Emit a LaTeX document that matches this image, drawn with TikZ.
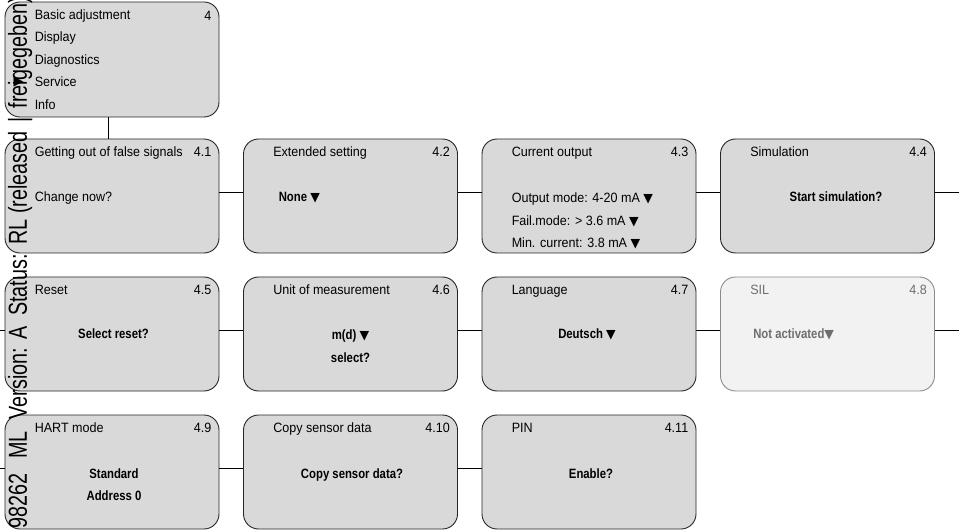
\documentclass[tikz,border=0pt]{standalone}
\usepackage{fontspec}
\setmainfont{Liberation Sans}[FakeStretch=0.93,BoldFeatures={FakeStretch=0.84}]
\newfontfamily\symfont{DejaVu Sans}
\newfontfamily\stampfont{Liberation Sans}[FakeStretch=0.76]
\definecolor{Box}{HTML}{D9D9D9}
\definecolor{Pale}{HTML}{F2F2F2}
\definecolor{Edge}{HTML}{262626}
\definecolor{Rim}{HTML}{8C8C8C}
\definecolor{Dim}{HTML}{6E6E6E}
\newcommand{\dn}{{\symfont\fontsize{12.5}{12}\selectfont ▼}}
\newcommand{\rt}{{\symfont\fontsize{13}{12}\selectfont ▶}}

\begin{document}
\begin{tikzpicture}[x=1pt,y=1pt,font=\fontsize{13.5}{15}\selectfont,
    menu/.style={line width=.9pt,rounded corners=15pt,minimum width=214pt,minimum height=114pt,inner sep=0pt},
    txt/.style={inner sep=0pt},
    link/.style={line width=.9pt}]
  \useasboundingbox (0,0) rectangle (959,531);
  % main menu
  \node[menu,draw=Edge,fill=Box,minimum height=115pt] (menu) at (112,471.5) {};
  \node[txt,anchor=west,align=left] (items) at ([xshift=30pt]menu.west) {Basic adjustment\\[7.5pt]Display\\[7.5pt]Diagnostics\\[7.5pt]Service\\[7.5pt]Info};
  \node[txt] (mark) at (18.5,449) {\rt};
  \node[txt,anchor=base east] (menu-n) at ([xshift=-8pt,yshift=-19pt]menu.north east) {4};
  % sub menus
  \foreach \name/\x/\y/\title/\num/\fillc/\linec/\textc in {
      b41/112/335/Getting out of false signals/4.1/Box/Edge/black,
      b42/350.5/335/Extended setting/4.2/Box/Edge/black,
      b43/589/335/Current output/4.3/Box/Edge/black,
      b44/827.5/335/Simulation/4.4/Box/Edge/black,
      b45/112/197/Reset/4.5/Box/Edge/black,
      b46/350.5/197/Unit of measurement/4.6/Box/Edge/black,
      b47/589/197/Language/4.7/Box/Edge/black,
      b48/827.5/197/SIL/4.8/Pale/Rim/Dim,
      b49/112/59/HART mode/4.9/Box/Edge/black,
      b410/350.5/59/Copy sensor data/4.10/Box/Edge/black,
      b411/589/59/PIN/4.11/Box/Edge/black}{
    \node[menu,draw=\linec,fill=\fillc] (\name) at (\x,\y) {};
    \node[txt,anchor=base west,text=\textc] (\name-t) at ([xshift=30pt,yshift=-18pt]\name.north west) {\title};
    \node[txt,anchor=base east,text=\textc] (\name-n) at ([xshift=-8pt,yshift=-18pt]\name.north east) {\num};
  }
  \node[txt,anchor=base west] (c41) at ([xshift=30pt,yshift=-6pt]b41.west) {Change now?};
  \node[txt,anchor=base west] (c42) at ([xshift=35.5pt,yshift=-6pt]b42.west) {\textbf{None \dn}};
  \node[txt,anchor=west,align=left] (c43) at ([xshift=30pt,yshift=-25pt]b43.west) {Output mode: 4-20 mA \dn\\[7.5pt]Fail.mode: > 3.6 mA \dn\\[7.5pt]Min. current: 3.8 mA \dn};
  \node[txt,anchor=base] (c44) at ([xshift=8.5pt,yshift=-6pt]b44.center) {\textbf{Start simulation?}};
  \node[txt,anchor=base] (c45) at ([xshift=1.5pt,yshift=-4pt]b45.center) {\textbf{Select reset?}};
  \node[txt,align=center] (c46) at ([yshift=-12pt]b46.center) {\textbf{m(d) \dn}\\[8pt]\textbf{select?}};
  \node[txt,anchor=base] (c47) at ([xshift=-2pt,yshift=-4pt]b47.center) {\textbf{Deutsch \dn}};
  \node[txt,anchor=base west,text=Dim] (c48) at ([xshift=33pt,yshift=-4pt]b48.west) {\textbf{Not activated\dn}};
  \node[txt,align=center] (c49) at ([xshift=2pt,yshift=-13pt]b49.center) {\textbf{Standard}\\[7pt]\textbf{Address 0}};
  \node[txt,anchor=base] (c410) at ([xshift=1.5pt,yshift=-6pt]b410.center) {\textbf{Copy sensor data?}};
  \node[txt,anchor=base] (c411) at ([xshift=2pt,yshift=-6pt]b411.center) {\textbf{Enable?}};
  % connectors
  \coordinate (out1) at (959,339);
  \coordinate (in2) at (0,201);
  \coordinate (out2) at (959,201);
  \coordinate (in3) at (0,63);
  \draw[link] ([xshift=-4pt]menu.south) -- ([xshift=-4pt]b41.north);
  \foreach \a/\b in {b41/b42,b42/b43,b43/b44,b45/b46,b46/b47,b47/b48,b49/b410,b410/b411}
    \draw[link] ([yshift=4pt]\a.east) -- ([yshift=4pt]\b.west);
  \draw[link] ([yshift=4pt]b44.east) -- (out1);
  \draw[link] (in2) -- ([yshift=4pt]b45.west);
  \draw[link] ([yshift=4pt]b48.east) -- (out2);
  \draw[link] (in3) -- ([yshift=4pt]b49.west);
  % document stamp
  \node[rotate=90,anchor=base west,inner sep=0pt,font=\stampfont\fontsize{26}{26}\selectfont] (stamp) at (27,2) {98262\hspace{15pt}ML\hspace{12pt}Version:\hspace{9pt}A\hspace{10pt}Status:\hspace{10pt}RL (released\hspace{9pt}|\hspace{9pt}freigegeben)};
\end{tikzpicture}
\end{document}
